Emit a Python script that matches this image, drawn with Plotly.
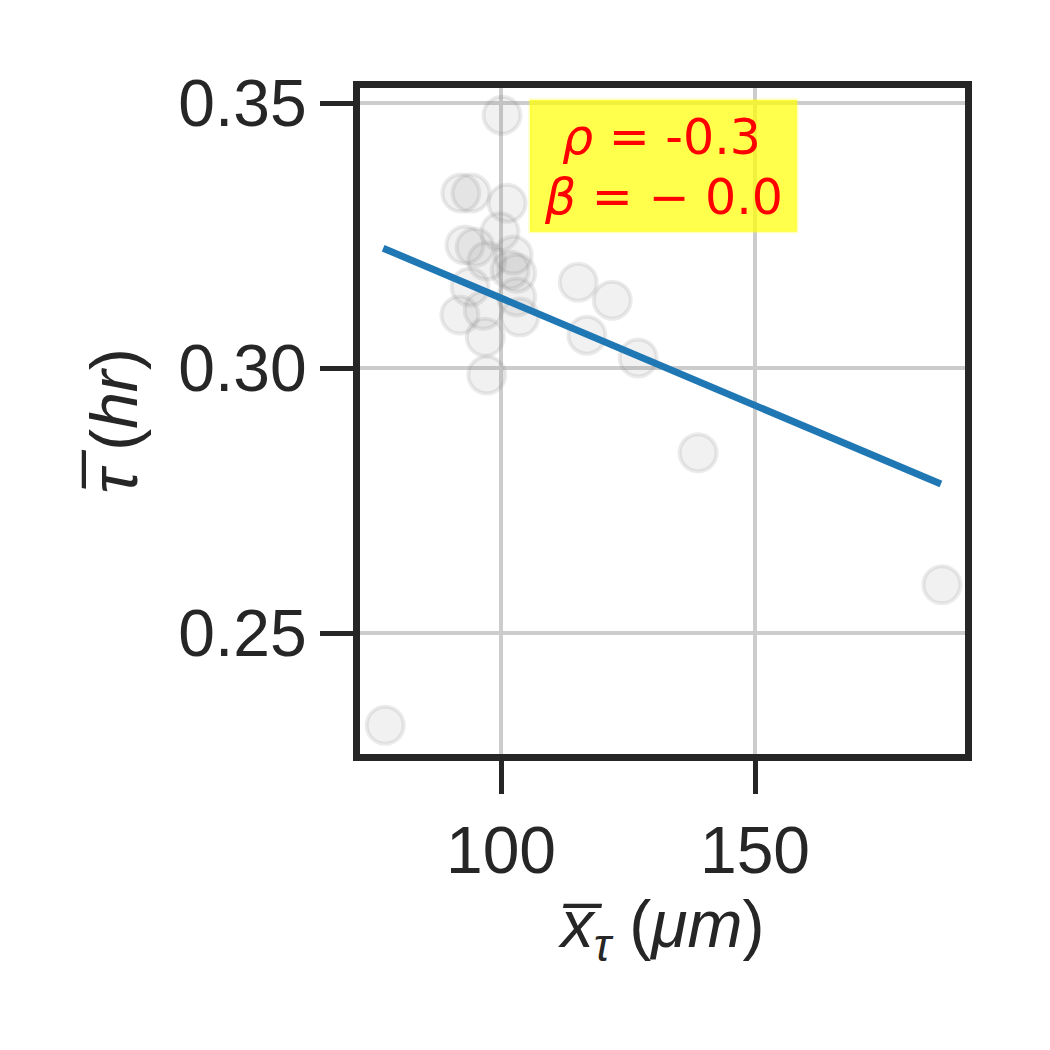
import plotly.graph_objects as go

# Data
x_tau = [100.2, 92.1, 94.1, 101.2, 99.8, 92.9, 94.9, 102.4, 97.2, 101.8, 103.1,
         93.9, 103.1, 91.9, 96.5, 103.7, 96.9, 97.2, 115.2, 121.9, 116.9, 127.0,
         138.8, 186.8, 77.2]
tau_mean = [0.3477, 0.3330, 0.3330, 0.3311, 0.3257, 0.3232, 0.3228, 0.3213, 0.3202,
            0.3185, 0.3179, 0.3153, 0.3134, 0.3100, 0.3109, 0.3096, 0.3058, 0.2987,
            0.3162, 0.3128, 0.3062, 0.3019, 0.2840, 0.2591, 0.2326]
fit_x = [76.8, 186.6]
fit_y = [0.3226, 0.2781]
x_ticks = [100, 150]
y_ticks = [0.25, 0.30, 0.35]
rho_text = "-0.3"
beta_text = "− 0.0"

FONT = "Liberation Sans, Arial, sans-serif"
MATHFONT = "DejaVu Sans, sans-serif"
DARK = "#262626"

fig = go.Figure()
fig.add_trace(go.Scatter(
    x=x_tau, y=tau_mean, mode="markers",
    marker=dict(size=37, color="rgba(128,128,128,0.11)",
                line=dict(color="rgba(128,128,128,0.16)", width=4)),
    showlegend=False, hoverinfo="skip"))
fig.add_trace(go.Scatter(
    x=fit_x, y=fit_y, mode="lines",
    line=dict(color="#1f77b4", width=7),
    showlegend=False))

axis_common = dict(
    showline=True, linecolor=DARK, linewidth=7, mirror=True,
    ticks="outside", ticklen=33, tickwidth=5, tickcolor=DARK,
    showgrid=True, gridcolor="#cccccc", gridwidth=4,
    zeroline=False,
    tickfont=dict(family=FONT, size=66, color=DARK),
)

fig.update_xaxes(
    range=[72.24, 191.34], tickmode="array", tickvals=x_ticks,
    title=dict(text="<i>x̅</i><sub><i>τ</i></sub> (<i>μm</i>)",
               font=dict(family=FONT, size=66, color=DARK), standoff=5),
    **axis_common)
fig.update_yaxes(
    range=[0.22717, 0.35283], tickmode="array", tickvals=y_ticks,
    tickformat=".2f",
    title=dict(text="<i>τ̅</i> (<i>hr</i>)",
               font=dict(family=FONT, size=66, color=DARK), standoff=22),
    **axis_common)

# yellow text box
fig.add_shape(type="rect", xref="paper", yref="paper",
              x0=0.281, x1=0.722, y0=0.784, y1=0.982,
              fillcolor="rgba(255,255,0,0.7)",
              line=dict(color="rgba(255,255,0,0.25)", width=3), layer="above")
fig.add_annotation(
    xref="paper", yref="paper", x=0.499, y=0.925,
    xanchor="center", yanchor="middle",
    text=f"<i>ρ</i> = {rho_text}", showarrow=False,
    font=dict(family=MATHFONT, size=49, color="#ff0000"))
fig.add_annotation(
    xref="paper", yref="paper", x=0.502, y=0.835,
    xanchor="center", yanchor="middle",
    text=f"<i>β</i> = {beta_text}", showarrow=False,
    font=dict(family=MATHFONT, size=49, color="#ff0000"))

fig.update_layout(
    width=1050, height=1050,
    margin=dict(l=352, r=93, t=80, b=304),
    paper_bgcolor="white", plot_bgcolor="white",
)

fig.write_html("out.html")
